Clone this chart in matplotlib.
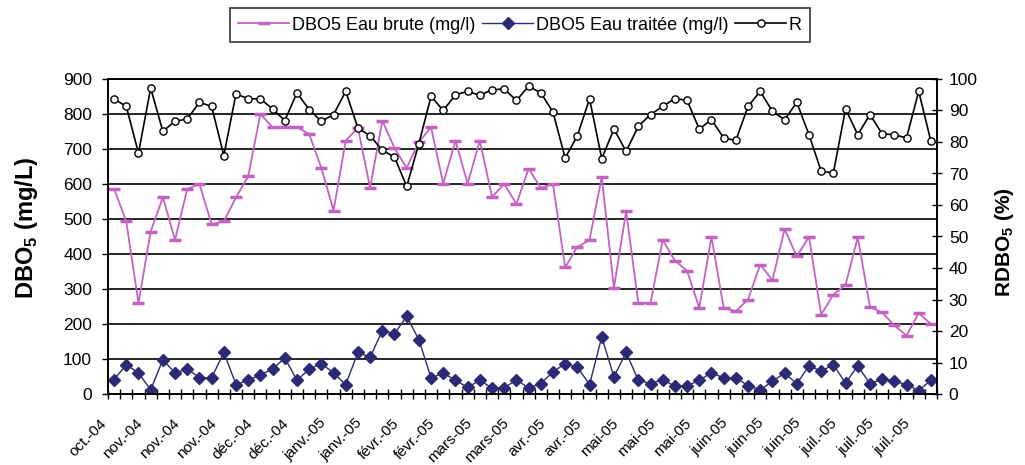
import matplotlib
matplotlib.use('Agg')
import matplotlib.pyplot as plt
import matplotlib.transforms as mtransforms
from matplotlib.ticker import FixedLocator, NullFormatter
import numpy as np

plt.rcParams['font.family'] = ['Liberation Sans', 'DejaVu Sans']
plt.rcParams['mathtext.fontset'] = 'custom'
plt.rcParams['mathtext.rm'] = 'Liberation Sans'
plt.rcParams['mathtext.bf'] = 'Liberation Sans:bold'

# étiquettes de l'axe x (une toutes les 3 mesures)
date_labels = ['oct.-04', 'nov.-04', 'nov.-04', 'nov.-04', 'déc.-04', 'déc.-04',
               'janv.-05', 'janv.-05', 'févr.-05', 'févr.-05', 'mars-05', 'mars-05',
               'avr.-05', 'avr.-05', 'mai-05', 'mai-05', 'mai-05',
               'juin-05', 'juin-05', 'juin-05', 'juil.-05', 'juil.-05', 'juil.-05']

# DBO5 eau brute (mg/l)
dbo_brute = [586, 493, 260, 464, 562, 440, 586, 600, 485, 493,
             562, 622, 800, 762, 762, 762, 743, 646, 524, 724,
             760, 589, 781, 703, 646, 720, 762, 601, 724, 601,
             724, 563, 600, 543, 644, 589, 600, 362, 420, 440,
             620, 303, 522, 260, 260, 440, 381, 352, 246, 449,
             246, 236, 270, 370, 325, 471, 393, 449, 227, 284,
             312, 448, 249, 233, 196, 167, 231, 200]

# DBO5 eau traitée (mg/l)
dbo_traitee = [41, 84, 60, 12, 98, 60, 72, 46, 46, 119,
               27, 39, 55, 71, 103, 39, 71, 87, 60, 27,
               119, 105, 181, 172, 222, 155, 46, 60, 39, 19,
               39, 17, 17, 41, 17, 30, 63, 87, 77, 27,
               163, 49, 119, 39, 30, 41, 22, 22, 40, 60,
               46, 46, 24, 12, 36, 60, 29, 81, 65, 84,
               31, 81, 29, 43, 36, 27, 10, 39]

# rendement R (%)
rendement = [93.7, 91.3, 76.5, 97.1, 83.4, 86.6, 87.3, 92.6, 91.3, 75.7,
             95.3, 93.7, 93.7, 90.5, 86.8, 95.6, 90.3, 86.6, 88.7, 96.1,
             84.4, 82.0, 77.4, 75.2, 65.9, 79.5, 94.5, 90.0, 95.0, 96.1,
             94.8, 96.6, 96.8, 93.2, 97.7, 95.6, 89.5, 74.9, 82.0, 93.7,
             74.7, 84.1, 77.0, 85.0, 88.7, 91.3, 93.8, 93.2, 84.1, 87.1,
             81.3, 80.5, 91.3, 96.1, 89.7, 87.1, 92.6, 82.3, 70.7, 70.2,
             90.5, 82.3, 88.7, 82.6, 82.3, 81.3, 96.1, 80.2]

PINK = '#c462c4'
NAVY = '#2c2a74'

W, H = 1025, 465
fig = plt.figure(figsize=(W / 100, H / 100), dpi=100)
ax = fig.add_axes([108 / W, 1 - 394 / H, (937 - 108) / W, (394 - 79) / H])

x = np.arange(len(dbo_brute))
l1, = ax.plot(x, dbo_brute, color=PINK, lw=1.3, marker='_', ms=9, mew=2.5,
              label='DBO5 Eau brute (mg/l)')
l2, = ax.plot(x, dbo_traitee, color=NAVY, lw=1.0, marker='D', ms=6.5,
              label='DBO5 Eau traitée (mg/l)')

ax2 = ax.twinx()
l3, = ax2.plot(x, rendement, color='black', lw=1.2, marker='o', ms=5.2,
               mfc='white', mec='black', mew=1.0, label='R')

ax.set_xlim(-0.5, len(x) - 0.5)
ax.set_ylim(0, 900)
ax2.set_ylim(0, 100)
ax.set_yticks(range(0, 901, 100))
ax2.set_yticks(range(0, 101, 10))
ax.yaxis.grid(True, color='black', lw=1.2)
ax.set_axisbelow(True)

ax.xaxis.set_major_locator(FixedLocator(np.arange(-0.5, len(x), 1)))
ax.xaxis.set_major_formatter(NullFormatter())
ax.tick_params(axis='x', direction='inout', length=7, width=1.0)
ax.tick_params(axis='y', direction='out', length=4.5, width=1.0, pad=7, labelsize=12.5)
ax2.tick_params(axis='y', direction='inout', length=7, width=1.0, pad=5, labelsize=12.5)
for a in (ax, ax2):
    for s in a.spines.values():
        s.set_color('black')
        s.set_linewidth(1.2)

# étiquettes des dates, décalées comme dans Excel
off = mtransforms.ScaledTranslation(-15 / 100, -22 / 100, fig.dpi_scale_trans)
tr = ax.get_xaxis_transform() + off
for i, lab in enumerate(date_labels):
    ax.text(i * 3, 0, lab, transform=tr, rotation=45, ha='right', va='top',
            rotation_mode='anchor', fontsize=11)

fig.text(26 / W, 1 - 228 / H, r'DBO$_\mathbf{5}$ (mg/L)', rotation=90, ha='center',
         va='center', fontsize=17, fontweight='bold')
fig.text(1005 / W, 1 - 242 / H, r'RDBO$_\mathbf{5}$ (%)', rotation=90, ha='center',
         va='center', fontsize=15, fontweight='bold')

leg = fig.legend(handles=[l1, l2, l3], loc='center', bbox_to_anchor=(520 / W, 1 - 25 / H),
                 ncol=3, frameon=True, fancybox=False, fontsize=13, handlelength=2.8,
                 handletextpad=0.15, columnspacing=0.4, borderpad=0.45)
leg.get_frame().set_edgecolor('black')
leg.get_frame().set_linewidth(1.2)

fig.savefig('out.png', dpi=100, facecolor='white')
